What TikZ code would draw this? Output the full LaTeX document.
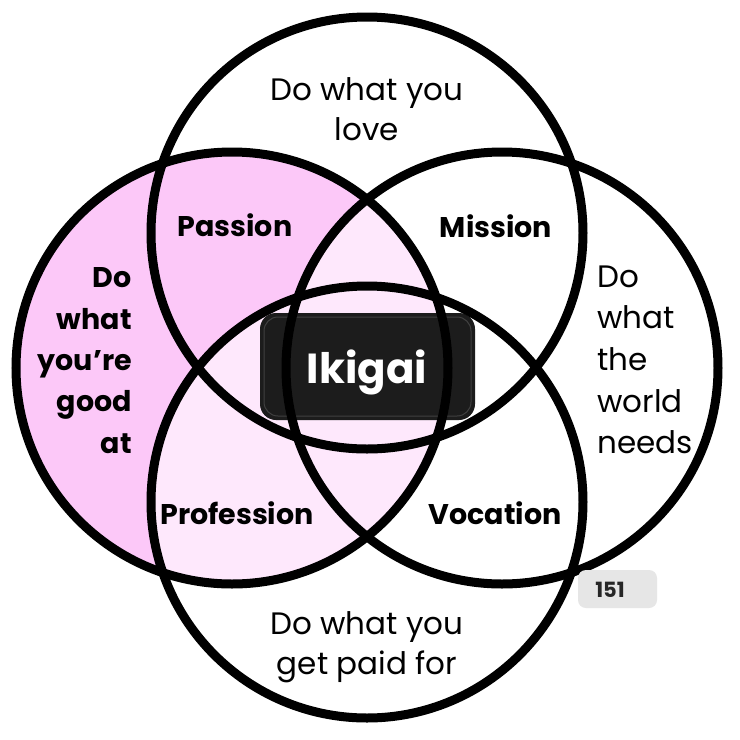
\documentclass[tikz,border=0pt]{standalone}
\usepackage{fontspec}
\setmainfont{Poppins}[Ligatures=NoCommon]
\begin{document}
\begin{tikzpicture}[x=1pt,y=-1pt,
  ring/.style={draw=black,line width=9pt},
  reg/.style={font=\fontsize{31}{36}\selectfont,text=black,inner sep=0pt},
  lbl/.style={font=\bfseries\fontsize{28.5}{36}\selectfont,text=black,inner sep=0pt},
]
\definecolor{pinkD}{RGB}{252,200,248}
\definecolor{pinkL}{RGB}{254,232,252}
\definecolor{boxC}{RGB}{28,28,28}
\definecolor{tagC}{RGB}{230,230,230}
\useasboundingbox (0,0) rectangle (740,740);
\fill[white] (0,0) rectangle (740,740);
\coordinate (cT) at (367,233);
\coordinate (cL) at (232,368);
\coordinate (cR) at (502,368);
\coordinate (cB) at (367,502);
% fills
\fill[pinkD] (cL) circle[radius=216];
\begin{scope}
  \clip (cL) circle[radius=216];
  \fill[pinkL] (cR) circle[radius=216];
  \fill[pinkL] (cB) circle[radius=216];
\end{scope}
% Ikigai box
\fill[boxC,rounded corners=16pt] (260,313) rectangle (475,420);
\draw[black!75,line width=1pt,rounded corners=14pt] (264,317) rectangle (471,416);
% circles
\draw[ring] (cT) circle[radius=216];
\draw[ring] (cL) circle[radius=216];
\draw[ring] (cR) circle[radius=216];
\draw[ring] (cB) circle[radius=216];
% centre label
\node[font=\bfseries\fontsize{42}{50}\selectfont,text=white,inner sep=0pt,anchor=base] (ikigai) at (367,383) {Ikigai};
% top
\node[reg,anchor=base] (t1) at (367,100) {Do what you};
\node[reg,anchor=base] (t2) at (367,140) {love};
% bottom
\node[reg,anchor=base] (b1) at (367,634) {Do what you};
\node[reg,anchor=base] (b2) at (367,674) {get paid for};
% left
\node[lbl,anchor=base east] (l1) at (132,287) {Do};
\node[lbl,anchor=base east] (l2) at (132,329) {what};
\node[lbl,anchor=base east] (l3) at (132,370) {you’re};
\node[lbl,anchor=base east] (l4) at (132,411) {good};
\node[lbl,anchor=base east] (l5) at (132,453) {at};
% right
\node[reg,anchor=base west] (r1) at (597,287) {Do};
\node[reg,anchor=base west] (r2) at (597,328) {what};
\node[reg,anchor=base west] (r3) at (597,370) {the};
\node[reg,anchor=base west] (r4) at (597,412) {world};
\node[reg,anchor=base west] (r5) at (597,453) {needs};
% intersections
\node[lbl,anchor=base] (passion) at (235,236) {Passion};
\node[lbl,anchor=base] (mission) at (496,237) {Mission};
\node[lbl,anchor=base] (profession) at (237,524) {Profession};
\node[lbl,anchor=base] (vocation) at (495,524) {Vocation};
% page tag
\fill[tagC,rounded corners=8pt] (578,570) rectangle (657,608);
\node[font=\bfseries\fontsize{21}{24}\selectfont,text=black!85,inner sep=0pt,anchor=base] (tag) at (610,597) {151};
\end{tikzpicture}
\end{document}
